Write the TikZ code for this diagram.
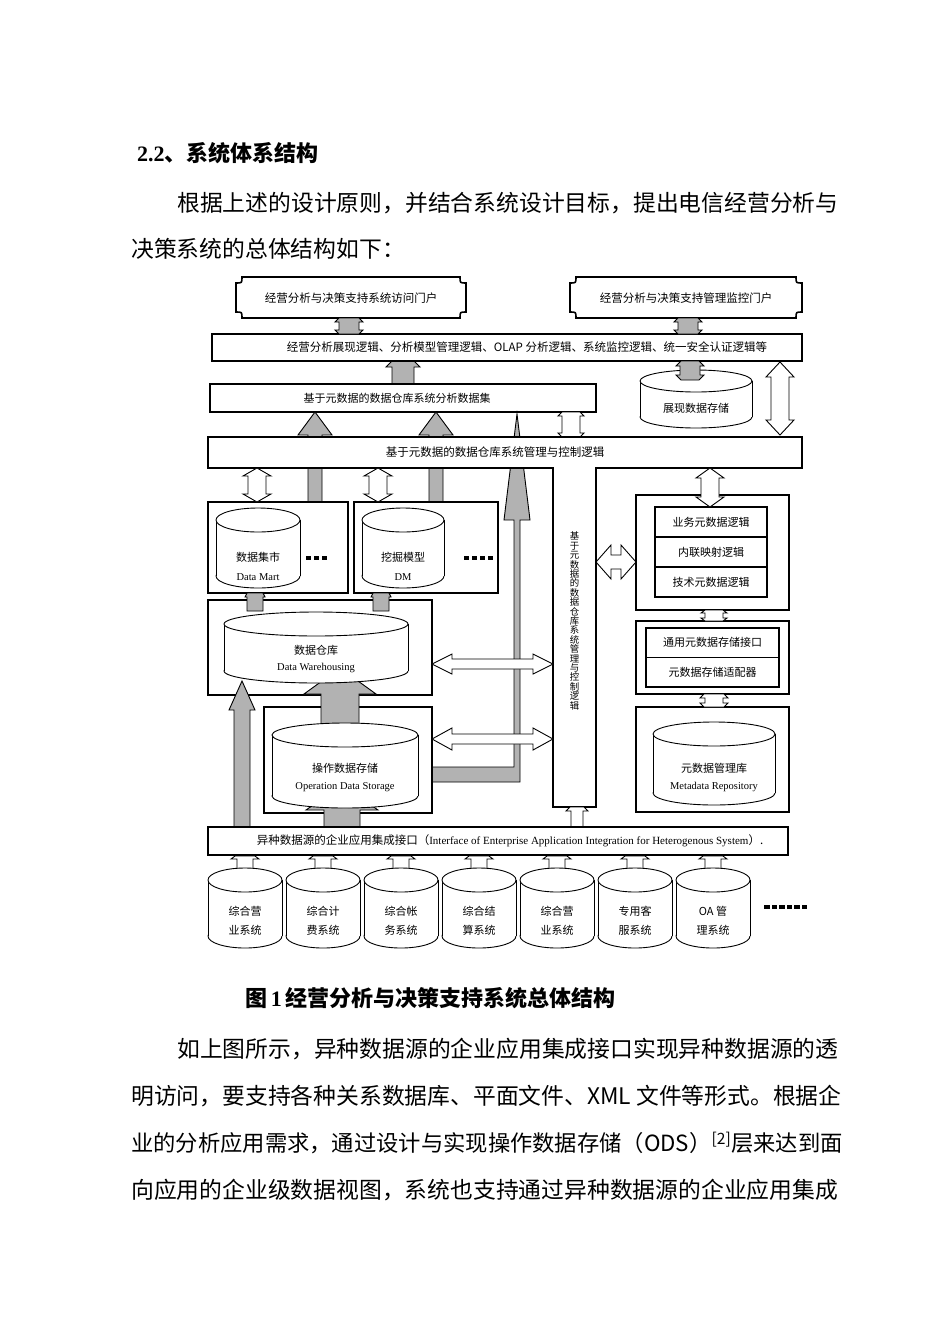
\documentclass[tikz,border=0pt]{standalone}
\usepackage{fontspec}
\setmainfont{Liberation Serif}
\newfontfamily\zh{Noto Sans CJK SC}

\newcommand{\dfont}{\zh\fontsize{11}{13}\selectfont}
\newcommand{\pfont}{\zh\fontsize{11.5}{13}\selectfont}
\newcommand{\vfont}{\zh\fontsize{9.4}{9.4}\selectfont}
\newcommand{\efont}{\rmfamily\fontsize{10.5}{12}\selectfont}
\newcommand{\parafont}{\zh\fontsize{22.8}{27}\selectfont}
\newcommand{\headfont}{\zh\bfseries\fontsize{22}{26}\selectfont}
\newcommand{\capfont}{\zh\bfseries\fontsize{22}{26}\selectfont}

% block arrows: x, tip y, tail y, shaft half, head half, head length, tip half
\newcommand{\uparr}[8][white]{\draw[blk, fill=#1] (#2-#8,#3) -- (#2+#8,#3) -- (#2+#6,#3+#7) -- (#2+#5,#3+#7) -- (#2+#5,#4) -- (#2-#5,#4) -- (#2-#5,#3+#7) -- (#2-#6,#3+#7) -- cycle;}
\newcommand{\vdarr}[8][white]{\draw[blk, fill=#1] (#2-#8,#3) -- (#2+#8,#3) -- (#2+#6,#3+#7) -- (#2+#5,#3+#7) -- (#2+#5,#4-#7) -- (#2+#6,#4-#7) -- (#2+#8,#4) -- (#2-#8,#4) -- (#2-#6,#4-#7) -- (#2-#5,#4-#7) -- (#2-#5,#3+#7) -- (#2-#6,#3+#7) -- cycle;}
\newcommand{\hdarr}[8][white]{\draw[blk, fill=#1] (#3,#2-#8) -- (#3+#7,#2-#6) -- (#3+#7,#2-#5) -- (#4-#7,#2-#5) -- (#4-#7,#2-#6) -- (#4,#2-#8) -- (#4,#2+#8) -- (#4-#7,#2+#6) -- (#4-#7,#2+#5) -- (#3+#7,#2+#5) -- (#3+#7,#2+#6) -- (#3,#2+#8) -- cycle;}
% cylinder: x left, x right, top y, bottom y, y radius
\newcommand{\dbcyl}[5]{\draw[cyl] ({(#1+#2)/2},{#4-#5}) ellipse [x radius={(#2-#1)/2}, y radius=#5];
  \fill[white] (#1,{#3+#5}) rectangle (#2,{#4-#5});
  \draw[cyl] (#1,{#3+#5}) -- (#1,{#4-#5}) (#2,{#3+#5}) -- (#2,{#4-#5});
  \draw[cyl] ({(#1+#2)/2},{#3+#5}) ellipse [x radius={(#2-#1)/2}, y radius=#5];}
% portal with hollow corners
\newcommand{\plaque}[4]{\draw[box] (#1+6,#2) -- (#3-6,#2) .. controls (#3-6,#2+6) .. (#3,#2+6) -- (#3,#4-6) .. controls (#3-6,#4-6) .. (#3-6,#4) -- (#1+6,#4) .. controls (#1+6,#4-6) .. (#1,#4-6) -- (#1,#2+6) .. controls (#1+6,#2+6) .. (#1+6,#2) -- cycle;}

\begin{document}
\begin{tikzpicture}[x=1pt,y=-1pt]
    \tikzset{box/.style={draw, fill=white, line width=1.6pt, inner sep=0pt}
    , row/.style={box, line width=1.3pt, minimum width=112, minimum height=30, font=\dfont}
    , blk/.style={draw=black, line width=0.9pt}
    , cyl/.style={draw=black, fill=white, line width=0.9pt}
    , lbl/.style={inner sep=0pt, font=\dfont}
    , en/.style={inner sep=0pt, font=\efont}
    , bodytxt/.style={inner sep=0pt, anchor=west, font=\parafont}
    }

\fill[white] (0,0) rectangle (950,1344);
\path[use as bounding box] (0,0) rectangle (950,1344);

% text above the figure
\node[bodytxt, font=\headfont] (head) at (137,153) {{\rmfamily 2.2}、系统体系结构};
\node[bodytxt] (para1) at (177,203) {根据上述的设计原则，并结合系统设计目标，提出电信经营分析与};
\node[bodytxt] (para2) at (131,249) {决策系统的总体结构如下：};

% portals
\plaque{236}{277}{466}{318}
\node[lbl, font=\pfont] (webportal) at (351,298) {经营分析与决策支持系统访问门户};
\plaque{570}{277}{802}{318}
\node[lbl, font=\pfont] (mgtportal) at (686,298) {经营分析与决策支持管理监控门户};

\uparr[black!30]{403}{350}{384}{11}{17}{17}{0}
\node[box, minimum width=590, minimum height=27] (showbar) at (507,347.5) {};
\node[lbl, font=\pfont] (showtxt) at (527,347.5) {经营分析展现逻辑、分析模型管理逻辑、OLAP 分析逻辑、系统监控逻辑、统一安全认证逻辑等};
\vdarr[black!30]{349}{318}{334}{10}{14}{4}{10}
\vdarr[black!30]{688}{318}{334}{10}{14}{4}{10}

\dbcyl{640}{752}{370}{428}{11}
\node[lbl] (showdb) at (696,408) {展现数据存储};
\vdarr[black!30]{690}{361}{380}{10}{14}{5}{9}
\vdarr{780}{362}{435}{9}{14}{15}{0}

\node[box, minimum width=386, minimum height=28] (setbar) at (403,398) {};
\node[lbl] (settxt) at (397,398) {基于元数据的数据仓库系统分析数据集};

% flows up into the data set layer
\uparr[black!30]{315}{412}{502}{7}{17}{23}{0}
\uparr[black!30]{436}{412}{502}{7}{17}{23}{0}
\draw[blk, fill=black!30] (432,767) -- (514,767) -- (514,520) -- (504,520) -- (517,414) -- (530,520) -- (520,520) -- (520,782) -- (432,782) -- cycle;
\vdarr{571}{412}{437}{9}{13}{4}{9}

% control layer
\draw[box] (208,437) -- (802,437) -- (802,468) -- (596,468) -- (596,807) -- (553,807) -- (553,468) -- (208,468) -- cycle;
\node[lbl, font=\pfont] (ctrltxt) at (495,452.5) {基于元数据的数据仓库系统管理与控制逻辑};
\node[lbl, font=\vfont, align=center] (ctrlvert) at (574.5,621) {基\\于\\元\\数\\据\\的\\数\\据\\仓\\库\\系\\统\\管\\理\\与\\控\\制\\逻\\辑};

% data mart and mining model
\node[box, minimum width=140, minimum height=91] (martbox) at (278,547.5) {};
\node[box, minimum width=144, minimum height=91] (dmbox) at (426,547.5) {};
\dbcyl{216}{300}{508}{588}{12}
\node[lbl] (marttxt) at (258,557) {数据集市};
\node[en] (martname) at (258,577) {Data Mart};
\dbcyl{362}{444}{508}{588}{12}
\node[lbl] (dmtxt) at (403,557) {挖掘模型};
\node[en] (dmname) at (403,577) {DM};
\foreach \i in {0,1,2} \fill (306+8*\i,556) rectangle ++(5,4);
\foreach \i in {0,...,3} \fill (464+8*\i,556) rectangle ++(5,4);
\vdarr{257}{468}{502}{9}{14}{8}{0}
\vdarr{378}{468}{502}{9}{14}{8}{0}

% warehouse and ODS
\node[box, minimum width=224, minimum height=95] (dwbox) at (320,647.5) {};
\uparr[black!30]{255}{593}{611}{8}{10}{4}{8}
\uparr[black!30]{381}{593}{611}{8}{10}{4}{8}
\node[box, minimum width=168, minimum height=106] (odsbox) at (348,760) {};
\uparr[black!30]{340}{668}{724}{19}{36}{26}{0}
\dbcyl{224}{408}{612}{683}{12}
\node[lbl] (dwtxt) at (316,650) {数据仓库};
\node[en] (dwname) at (316,668) {Data Warehousing};
\uparr[black!30]{342}{785}{827}{18}{36}{25}{0}
\dbcyl{272}{418}{723}{808}{12}
\node[lbl] (odstxt) at (345,768) {操作数据存储};
\node[en] (odsname) at (345,787) {Operation Data Storage};
\uparr[black!30]{242}{681}{827}{8}{13}{29}{0}
\hdarr{664}{432}{553}{5}{10}{20}{0}
\hdarr{739}{432}{553}{5}{11}{20}{0}
\uparr{577}{807}{827}{6}{11}{4}{7}

% metadata side
\node[box, minimum width=153, minimum height=115] (logicbox) at (712.5,552.5) {};
\node[row] (bizmeta) at (711,522) {业务元数据逻辑};
\node[row] (mapmeta) at (711,552) {内联映射逻辑};
\node[row] (techmeta) at (711,582) {技术元数据逻辑};
\vdarr{710}{468}{507}{9}{14}{10}{0}
\hdarr{562}{596}{636}{7}{17}{15}{0}
\node[box, minimum width=153, minimum height=73] (storebox) at (712.5,657.5) {};
\node[row, minimum width=133, minimum height=29.5] (storeif) at (712.5,642.75) {通用元数据存储接口};
\node[row, minimum width=133, minimum height=29.5] (storeadp) at (712.5,672.25) {元数据存储适配器};
\vdarr{714}{610}{621}{9}{13}{3}{9}
\node[box, minimum width=153, minimum height=105] (metabox) at (712.5,759.5) {};
\dbcyl{653}{775}{722}{805}{12}
\node[lbl] (metatxt) at (714,768) {元数据管理库};
\node[en] (metaname) at (714,787) {Metadata Repository};
\vdarr{714}{694}{707}{9}{14}{4}{10}

% integration interface and sources
\node[box, minimum width=580, minimum height=28] (eaibar) at (498,841) {};
\node[lbl, font=\pfont] (eaitxt) at (510,841) {异种数据源的企业应用集成接口（{\rmfamily\fontsize{11}{12}\selectfont Interface of Enterprise Application Integration for Heterogenous System}）.};
\foreach \xl/\ta/\tb [count=\k] in {208/综合营/业系统,286/综合计/费系统,364/综合帐/务系统,442/综合结/算系统,520/综合营/业系统,598/专用客/服系统,676/OA 管/理系统}{
  \uparr{\xl+37}{856}{872}{8}{14}{3}{10}
  \dbcyl{\xl}{\xl+74}{868}{948}{12}
  \node[lbl] (src\k-a) at (\xl+37,911) {\ta};
  \node[lbl] (src\k-b) at (\xl+37,930) {\tb};
}
\foreach \i in {0,...,5} \fill (764+7.5*\i,905) rectangle ++(5.5,3.5);

% caption and text below
\node[bodytxt, font=\capfont] (caption) at (245,998) {图\,{\rmfamily 1}\,经营分析与决策支持系统总体结构};
\node[bodytxt] (para3) at (177,1049) {如上图所示，异种数据源的企业应用集成接口实现异种数据源的透};
\node[bodytxt] (para4) at (131,1096) {明访问，要支持各种关系数据库、平面文件、XML 文件等形式。根据企};
\node[bodytxt, font=\zh\fontsize{22.3}{27}\selectfont] (para5) at (131,1143) {业的分析应用需求，通过设计与实现操作数据存储（ODS）\textsuperscript{[2]}层来达到面};
\node[bodytxt] (para6) at (131,1190) {向应用的企业级数据视图，系统也支持通过异种数据源的企业应用集成};
\end{tikzpicture}
\end{document}
